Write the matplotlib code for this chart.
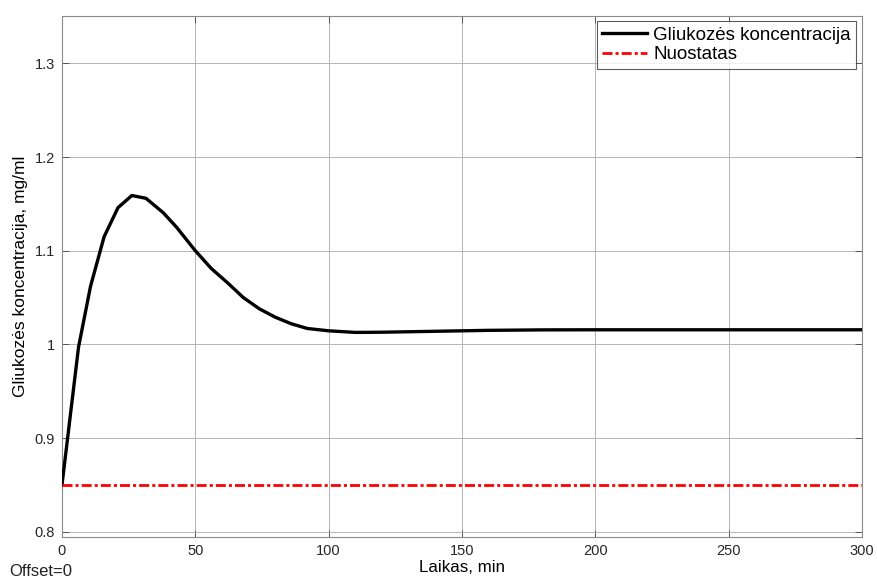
import numpy as np
import matplotlib
matplotlib.use("Agg")
import matplotlib.pyplot as plt

plt.rcParams['font.family'] = ['Liberation Sans', 'DejaVu Sans']

# glucose response (min, mg/ml)
laikas = [0, 6.2, 10.7, 15.8, 21.0, 26.2, 31.5, 38.0, 43.0, 50.0, 56.0, 62.0,
          68.0, 74.0, 80.0, 86.0, 92.0, 100.0, 110.0, 120.0, 140.0, 160.0,
          180.0, 200.0, 250.0, 300.0]
koncentracija = [0.85, 0.997, 1.062, 1.115, 1.146, 1.159, 1.156, 1.1405, 1.125,
                 1.100, 1.081, 1.066, 1.050, 1.038, 1.029, 1.022, 1.017, 1.0145,
                 1.0128, 1.0130, 1.0140, 1.0150, 1.0155, 1.0156, 1.0156, 1.0156]
nuostatas = 0.85
x_ticks = [0, 50, 100, 150, 200, 250, 300]
y_ticks = [0.8, 0.9, 1.0, 1.1, 1.2, 1.3]
y_tick_labels = ['0.8', '0.9', '1', '1.1', '1.2', '1.3']

fig = plt.figure(figsize=(8.78, 5.81), dpi=100)
ax = fig.add_axes([0.0706, 0.0752, 0.9112, 0.8978])

ax.plot(laikas, koncentracija, color='black', lw=2.4, label='Gliukozės koncentracija', zorder=3)
ax.plot([0, 300], [nuostatas, nuostatas], color='red', lw=2.0, ls='-.',
        dashes=(3.6, 1.1, 1.1, 1.1), label='Nuostatas', zorder=3)

ax.set_xlim(0, 300)
ax.set_ylim(0.794, 1.351)
ax.set_xticks(x_ticks)
ax.set_yticks(y_ticks)
ax.set_yticklabels(y_tick_labels)
ax.grid(True, color='#b5b5b5', lw=0.7)
ax.set_axisbelow(True)

for s in ax.spines.values():
    s.set_color('#8a8a8a')
    s.set_linewidth(0.8)
ax.tick_params(direction='in', length=5, width=0.7, color='#555555',
               top=True, right=True, labelsize=10.5, labelcolor='#262626', pad=5)

ax.set_xlabel('Laikas, min', fontsize=12.2, labelpad=1)
ax.set_ylabel('Gliukozės koncentracija, mg/ml', fontsize=12.5, labelpad=5)

leg = ax.legend(loc='upper right', fontsize=13.5, frameon=True, fancybox=False,
                borderaxespad=0.3, handlelength=2.4, handletextpad=0.32,
                borderpad=0.3, labelspacing=0.12)
leg.get_frame().set_edgecolor('#333333')
leg.get_frame().set_linewidth(0.8)

fig.text(0.011, 0.008, 'Offset=0', fontsize=12, color='#222222')

fig.savefig('out.png', dpi=100)
